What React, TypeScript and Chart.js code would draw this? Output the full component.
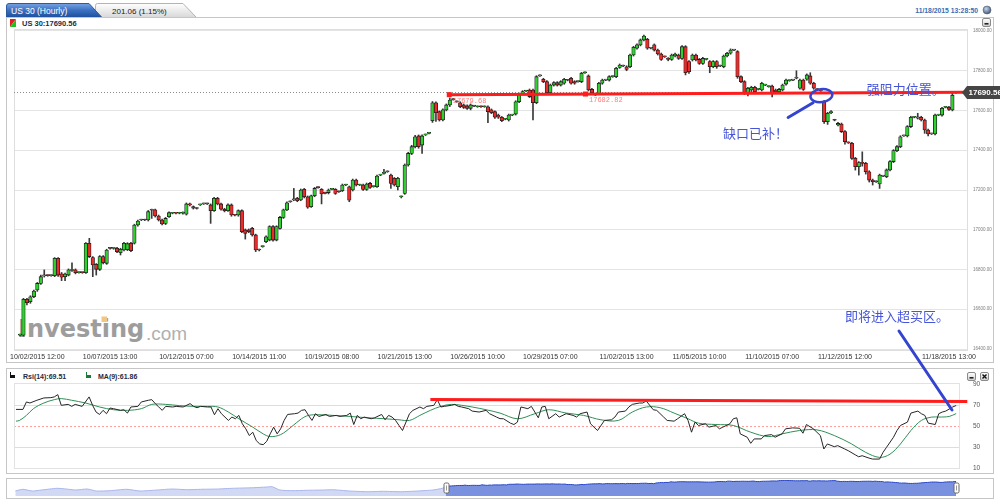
import React, { useEffect, useRef } from "react";
import { Chart, registerables } from "chart.js";

Chart.register(...registerables);
Chart.defaults.font.family = '"Liberation Sans", Arial, sans-serif';

// ---------------- main series (hourly candles) ----------------
const opens = [
  16470,16470,16650,16638,16663,16697,16730,16768,16770,16769,
  16769,16856,16778,16764,16772,16795,16798,16784,16785,16784,
  16932,16860,16826,16801,16865,16831,16907,16906,16907,16885,
  16898,16900,16932,16932,17024,17049,17050,17049,17098,17100,
  17069,17049,17032,17066,17083,17084,17083,17083,17078,17130,
  17116,17108,17125,17130,17131,17125,17096,17158,17130,17103,
  17096,17125,17074,17074,17096,16999,16999,17007,16974,16898,
  16915,16940,16948,17016,16948,17007,17062,17100,17141,17150,
  17158,17150,17203,17166,17116,17171,17213,17203,17187,17187,
  17203,17203,17192,17197,17225,17216,17200,17250,17225,17225,
  17203,17233,17217,17217,17275,17284,17292,17275,17259,17217,
  17166,17183,17326,17384,17418,17472,17426,17477,17485,17549,
  17639,17594,17552,17603,17628,17656,17644,17639,17628,17623,
  17611,17623,17619,17620,17619,17619,17603,17594,17577,17566,
  17556,17552,17577,17582,17644,17686,17698,17703,17703,17639,
  17774,17757,17745,17690,17728,17740,17728,17737,17753,17762,
  17745,17745,17745,17790,17774,17706,17678,17686,17737,17753,
  17753,17770,17770,17817,17824,17820,17820,17879,17913,17930,
  17955,17958,17913,17930,17904,17884,17871,17862,17857,17874,
  17879,17862,17921,17846,17854,17879,17857,17837,17857,17846,
  17820,17846,17824,17820,17874,17888,17904,17896,17770,17745,
  17690,17703,17717,17706,17703,17728,17720,17723,17703,17695,
  17703,17733,17750,17753,17762,17712,17753,17757,17774,17737,
  17706,17700,17644,17544,17589,17552,17527,17532,17494,17438,
  17435,17359,17317,17338,17334,17292,17250,17242,17230,17270,
  17267,17301,17343,17398,17418,17472,17472,17519,17566,17562,
  17566,17552,17502,17482,17482,17577,17577,17616,17616,17603,17690,
];
const highs = [
  16475,16655,16655,16668,16697,16735,16772,16798,16773,16773,
  16860,16860,16785,16782,16803,16834,16803,16788,16788,16935,
  16957,16865,16830,16870,16870,16902,16910,16910,16912,16907,
  16937,16935,16937,17028,17049,17053,17053,17097,17104,17104,
  17074,17054,17062,17090,17087,17087,17088,17090,17135,17134,
  17120,17111,17129,17134,17134,17130,17163,17163,17134,17108,
  17130,17130,17078,17100,17100,17004,17004,17012,16978,16903,
  16919,16970,17020,17021,17020,17067,17104,17141,17145,17208,
  17163,17205,17208,17170,17175,17213,17216,17207,17190,17205,
  17207,17207,17195,17230,17229,17220,17255,17255,17229,17230,
  17235,17238,17221,17275,17279,17304,17296,17280,17263,17264,
  17170,17331,17390,17425,17475,17477,17477,17481,17489,17645,
  17644,17598,17608,17633,17663,17660,17648,17644,17633,17628,
  17633,17626,17623,17623,17623,17623,17608,17598,17582,17570,
  17560,17582,17581,17649,17688,17700,17702,17708,17708,17775,
  17780,17762,17750,17733,17745,17745,17750,17762,17756,17767,
  17750,17749,17792,17794,17779,17712,17682,17742,17758,17757,
  17775,17774,17817,17834,17828,17825,17884,17923,17935,17960,
  17980,17963,17917,17935,17909,17889,17874,17866,17884,17889,
  17884,17926,17926,17851,17884,17884,17862,17867,17861,17851,
  17851,17851,17828,17879,17893,17910,17908,17901,17775,17750,
  17717,17722,17722,17710,17742,17732,17724,17728,17708,17711,
  17733,17758,17754,17757,17800,17758,17758,17784,17790,17742,
  17710,17704,17650,17591,17599,17556,17540,17537,17499,17442,
  17440,17364,17343,17392,17339,17297,17255,17246,17280,17274,
  17306,17348,17403,17423,17473,17476,17524,17571,17570,17586,
  17571,17557,17507,17486,17582,17581,17616,17620,17621,17690,17694,
];
const lows = [
  16465,16465,16622,16630,16658,16690,16725,16762,16766,16766,
  16764,16765,16744,16744,16768,16790,16778,16781,16781,16780,
  16860,16764,16772,16795,16828,16826,16902,16902,16885,16873,
  16893,16895,16890,16928,17018,17046,17046,17044,17057,17064,
  17044,17024,17026,17062,17080,17080,17080,17078,17074,17120,
  17104,17104,17122,17127,17127,17032,17092,17125,17098,17090,
  17092,17068,17070,17068,16985,16953,16985,16968,16890,16893,
  16912,16935,16944,16943,16944,17003,17057,17096,17138,17146,
  17141,17146,17160,17108,17112,17166,17209,17130,17180,17180,
  17200,17178,17188,17192,17222,17141,17195,17220,17222,17198,
  17198,17208,17214,17213,17272,17280,17289,17208,17220,17200,
  17160,17178,17320,17378,17412,17410,17384,17474,17482,17540,
  17545,17547,17547,17598,17620,17652,17641,17614,17610,17606,
  17603,17619,17616,17616,17616,17539,17584,17560,17560,17544,
  17553,17547,17574,17577,17639,17680,17695,17665,17552,17634,
  17771,17740,17685,17685,17723,17723,17723,17732,17749,17732,
  17732,17742,17740,17787,17698,17685,17675,17681,17732,17750,
  17748,17767,17765,17812,17821,17800,17815,17874,17908,17925,
  17950,17908,17910,17899,17879,17852,17867,17850,17852,17869,
  17857,17857,17779,17787,17849,17849,17832,17832,17854,17790,
  17815,17812,17821,17815,17869,17883,17901,17762,17740,17680,
  17673,17695,17690,17703,17698,17725,17717,17668,17690,17690,
  17698,17728,17747,17750,17759,17707,17701,17752,17732,17707,
  17702,17696,17535,17530,17584,17548,17522,17489,17430,17434,
  17354,17300,17275,17320,17280,17240,17225,17238,17208,17267,
  17262,17296,17338,17393,17413,17469,17467,17514,17563,17557,
  17547,17485,17472,17479,17477,17574,17572,17613,17600,17598,17686,
];
const closes = [
  16472,16650,16633,16663,16692,16730,16764,16770,16769,16770,
  16856,16772,16761,16777,16798,16800,16784,16785,16784,16932,
  16865,16823,16801,16865,16834,16898,16906,16907,16890,16902,
  16932,16930,16895,17024,17044,17050,17049,17091,17100,17069,
  17049,17029,17057,17086,17084,17083,17085,17084,17130,17125,
  17108,17107,17126,17131,17130,17096,17158,17130,17103,17096,
  17125,17074,17073,17096,16990,16982,16990,16974,16898,16900,
  16916,16965,17016,16948,17016,17062,17100,17136,17142,17152,
  17146,17200,17166,17113,17171,17208,17212,17180,17183,17200,
  17204,17183,17191,17225,17226,17149,17250,17225,17226,17203,
  17230,17213,17218,17270,17276,17285,17293,17233,17225,17259,
  17168,17326,17384,17418,17468,17418,17472,17478,17486,17639,
  17589,17552,17603,17628,17653,17655,17645,17619,17616,17611,
  17628,17622,17620,17619,17620,17594,17589,17566,17566,17549,
  17557,17577,17578,17644,17683,17695,17699,17670,17639,17770,
  17775,17745,17690,17728,17740,17728,17745,17757,17752,17737,
  17737,17746,17787,17791,17703,17690,17679,17737,17753,17754,
  17770,17771,17812,17829,17825,17807,17879,17918,17930,17955,
  17975,17913,17914,17904,17884,17857,17870,17857,17879,17884,
  17862,17921,17790,17795,17879,17854,17837,17862,17858,17820,
  17846,17820,17825,17874,17888,17904,17905,17770,17745,17686,
  17712,17717,17695,17707,17737,17729,17721,17686,17695,17706,
  17728,17753,17751,17754,17763,17753,17706,17779,17737,17712,
  17705,17699,17544,17586,17594,17551,17535,17494,17443,17437,
  17359,17317,17338,17334,17292,17250,17242,17241,17275,17271,
  17301,17343,17398,17418,17468,17473,17519,17566,17567,17568,
  17552,17502,17482,17483,17577,17578,17611,17617,17606,17677,17690.56,
];

const xTickBars = [5, 26, 48, 69, 90, 111, 132, 153, 175, 196, 217, 238, 268];
const xTickLabels = [
  "10/02/2015 12:00", "10/07/2015 13:00", "10/12/2015 07:00", "10/14/2015 11:00",
  "10/19/2015 08:00", "10/21/2015 13:00", "10/26/2015 10:00", "10/29/2015 07:00",
  "11/02/2015 13:00", "11/05/2015 10:00", "11/10/2015 07:00", "11/12/2015 12:00",
  "11/18/2015 13:00",
];
const priceTicks = [16400, 16600, 16800, 17000, 17200, 17400, 17600, 17800, 18000];
const lastPrice = 17690.56;

// ---------------- RSI panel ----------------
const rsiBars = [
  0,2,3,4,6,8,10,11,12,13,15,16,17,19,21,22,23,24,25,26,27,28,30,31,32,33,35,36,38,39,
  40,41,42,43,45,46,48,50,51,52,53,55,56,57,58,59,61,62,63,64,65,66,67,68,69,70,71,72,73,74,
  75,76,77,78,80,81,82,83,84,85,86,87,89,90,92,93,95,96,97,98,99,100,102,103,105,106,107,108,109,110,
  111,113,114,116,117,118,120,121,122,123,125,126,127,128,130,131,133,135,136,138,139,140,142,143,144,145,147,148,150,151,
  152,153,155,156,158,160,161,162,164,165,166,167,169,171,172,173,175,176,177,179,180,181,183,184,186,187,189,190,192,193,
  194,195,196,198,199,201,202,203,205,206,207,208,210,211,212,214,215,217,218,220,221,223,225,226,227,229,230,231,232,233,
  235,236,238,239,241,242,243,245,246,248,249,250,252,253,254,256,257,259,260,261,262,264,265,266,267,269,270,
];
const rsiValues = [
  65.8,65.8,72.9,71.9,74.5,76.7,77.0,77.7,79.9,69.7,70.6,68.7,70.6,68.7,77.7,69.7,63.3,61.0,64.9,61.7,67.1,66.5,64.9,65.5,62.3,68.1,68.7,72.9,74.5,75.1,
  71.3,68.1,64.9,68.7,68.1,68.7,68.1,71.3,68.7,67.4,68.7,68.1,68.1,60.7,66.5,61.7,55.3,58.5,56.9,60.1,52.1,47.3,40.9,44.1,36.1,32.9,32.2,35.4,42.5,48.9,
  42.5,47.3,55.3,61.0,61.7,62.3,64.9,65.5,60.1,55.3,61.7,59.1,61.0,59.1,60.1,59.1,60.1,62.3,51.4,60.1,56.9,58.5,56.9,57.8,61.0,55.9,60.1,58.5,55.3,50.5,
  45.7,61.7,64.9,68.1,66.5,68.7,69.7,75.1,68.1,68.7,69.7,70.6,68.7,68.1,66.5,64.2,63.3,64.9,61.7,58.5,57.0,56.9,52.7,51.4,53.7,68.1,66.5,68.7,57.8,68.1,
  68.7,56.9,61.7,58.5,61.7,60.1,58.5,61.7,63.3,52.1,48.9,45.7,55.3,55.9,58.5,63.3,64.2,68.1,70.6,71.9,71.9,73.8,65.5,64.9,58.5,55.3,54.6,56.9,61.7,55.3,
  44.1,53.7,50.5,52.1,48.9,50.5,47.3,48.9,52.1,56.9,57.8,42.5,39.3,33.5,37.7,37.7,40.9,41.8,39.3,42.5,47.3,48.2,47.9,43.1,51.4,47.3,44.1,40.9,28.1,32.9,
  30.3,31.3,28.1,26.5,22.6,20.7,21.7,19.4,18.5,18.5,24.9,29.7,39.3,45.7,50.5,53.7,62.3,64.2,61.7,60.1,52.7,51.4,61.7,63.3,64.2,68.1,69.51,
];
const maBars = [
  0,1,3,5,8,11,13,16,20,24,28,32,36,39,43,47,51,55,58,61,64,68,71,73,76,79,82,84,87,91,
  96,101,106,110,113,116,119,122,125,128,131,135,139,144,149,153,158,163,168,173,177,181,185,189,193,196,201,206,211,216,
  220,225,230,235,240,244,248,251,254,257,260,263,265,268,270,
];
const maValues = [
  54.6,55.3,60.1,66.5,71.9,75.1,76.1,74.5,71.9,68.1,65.5,64.9,66.5,70.6,70.6,69.4,68.7,68.7,68.1,63.3,56.9,48.9,42.5,39.9,41.8,48.9,56.9,60.1,60.7,60.1,
  59.1,57.8,56.9,55.9,55.3,60.1,64.9,68.7,70.6,69.7,68.1,65.5,62.3,56.9,61.7,65.5,62.3,60.1,55.9,55.3,63.3,68.1,67.4,62.3,56.9,52.7,51.4,50.5,44.1,39.9,
  42.5,45.7,46.3,40.9,32.9,24.9,20.1,23.2,32.9,45.7,55.3,58.5,58.5,59.1,61.86,
];
const rsiTicks = [10, 30, 50, 70, 90];

// ---------------- navigator (longer history before the visible window) ----------------
const navHistBars = [
  -228,-224,-219,-214,-206,-201,-196,-190,-185,-178,-169,-162,-153,-145,-137,-130,-121,
  -113,-102,-95,-92,-88,-81,-74,-65,-60,-51,-42,-33,-24,-15,-7,-2,
];
const navHistValues = [
  15470,15868,15470,15704,16102,15938,15704,15938,15470,15540,15868,15470,15704,15938,15774,15868,15938,
  16102,16242,16406,16476,15704,15540,15634,15704,15774,15470,15306,15400,15306,15470,15704,16102,
];

// ---------------- hand-drawn annotations ----------------
const trendBars = [123.7, 163.0];
const trendValues = [17679.68, 17682.82];
const rsiTrendBars = [119, 273.2];
const rsiTrendValues = [75.2, 73.3];
const notes = [
  { text: "缺口已补！", bar: 202.8, value: 17484 },
  { text: "强阻力位置。", bar: 244.3, value: 17710 },
  { text: "即将进入超买区。", bar: 238.0, value: 16566 },
];
const gapCircle = { bar: 231.2, value: 17675 };
const gapPointerBars = [221.6, 228.8];
const gapPointerValues = [17565, 17639];

const UP = "#2fd12f";
const DOWN = "#ec2b2b";
const NOTE_BLUE = "#4655d8";
const LINE_BLUE = "#3444d0";
const CLEAR = "rgba(0,0,0,0)";

const mainOverlay = {
  id: "mainOverlay",
  beforeDatasetsDraw(chart: any) {
    const { ctx, chartArea: a, scales } = chart;
    const y = scales.y;
    ctx.save();
    ctx.strokeStyle = "#dedede";
    ctx.lineWidth = 1;
    ctx.strokeRect(a.left + 0.5, a.top + 0.5, a.right - a.left - 1, a.bottom - a.top - 1);
    const py = Math.round(y.getPixelForValue(lastPrice)) + 0.5;
    ctx.setLineDash([1, 2]);
    ctx.strokeStyle = "#8c8c8c";
    ctx.beginPath();
    ctx.moveTo(a.left, py);
    ctx.lineTo(a.right, py);
    ctx.stroke();
    ctx.restore();
  },
  afterDatasetsDraw(chart: any) {
    const { ctx, chartArea: a, scales } = chart;
    const x = scales.x;
    const y = scales.y;
    ctx.save();
    // red resistance trend line, extended to the right edge
    const slope = (trendValues[1] - trendValues[0]) / (trendBars[1] - trendBars[0]);
    const endBar = x.max;
    const endVal = trendValues[0] + slope * (endBar - trendBars[0]);
    ctx.strokeStyle = "#ff1c1c";
    ctx.lineWidth = 3;
    ctx.beginPath();
    ctx.moveTo(x.getPixelForValue(trendBars[0]), y.getPixelForValue(trendValues[0]));
    ctx.lineTo(a.right, y.getPixelForValue(endVal));
    ctx.stroke();
    ctx.font = '7px "Liberation Mono", monospace';
    ctx.textBaseline = "top";
    for (let k = 0; k < 2; k++) {
      const px = x.getPixelForValue(trendBars[k]);
      const py = y.getPixelForValue(trendValues[k]);
      ctx.fillStyle = "#ff1c1c";
      ctx.fillRect(px - 2, py - 2.5, 5, 5);
      ctx.fillStyle = "#ff7b7b";
      ctx.fillText(trendValues[k].toFixed(2), px + 4, py + 3);
    }
    // gap ellipse + pointer
    ctx.strokeStyle = LINE_BLUE;
    ctx.lineWidth = 2.5;
    ctx.beginPath();
    ctx.ellipse(x.getPixelForValue(gapCircle.bar), y.getPixelForValue(gapCircle.value), 11, 6.5, -0.12, 0, Math.PI * 2);
    ctx.stroke();
    ctx.lineWidth = 3;
    ctx.lineCap = "round";
    ctx.beginPath();
    ctx.moveTo(x.getPixelForValue(gapPointerBars[0]), y.getPixelForValue(gapPointerValues[0]));
    ctx.lineTo(x.getPixelForValue(gapPointerBars[1]), y.getPixelForValue(gapPointerValues[1]));
    ctx.stroke();
    // notes
    ctx.fillStyle = NOTE_BLUE;
    ctx.font = '13px "Noto Sans CJK SC", sans-serif';
    ctx.textBaseline = "middle";
    ctx.textAlign = "left";
    notes.forEach((n) => ctx.fillText(n.text, x.getPixelForValue(n.bar), y.getPixelForValue(n.value)));
    // last price tag
    const ty = y.getPixelForValue(lastPrice);
    const W = chart.width;
    ctx.fillStyle = "#454545";
    ctx.beginPath();
    ctx.moveTo(a.right - 6, ty);
    ctx.lineTo(a.right - 1, ty - 6.5);
    ctx.lineTo(W, ty - 6.5);
    ctx.lineTo(W, ty + 6.5);
    ctx.lineTo(a.right - 1, ty + 6.5);
    ctx.closePath();
    ctx.fill();
    ctx.fillStyle = "#ffffff";
    ctx.font = 'bold 8px "Liberation Sans", Arial, sans-serif';
    ctx.fillText(lastPrice.toFixed(2), a.right + 0.5, ty + 0.5);
    ctx.restore();
  },
};

const rsiOverlay = {
  id: "rsiOverlay",
  beforeDatasetsDraw(chart: any) {
    const { ctx, chartArea: a } = chart;
    ctx.save();
    ctx.strokeStyle = "#e2e2e2";
    ctx.lineWidth = 1;
    ctx.strokeRect(a.left + 0.5, a.top - 0.5, a.right - a.left - 1, a.bottom - a.top + 1);
    ctx.restore();
  },
  afterDraw(chart: any) {
    const { ctx, scales } = chart;
    const x = scales.x;
    const y = scales.y;
    ctx.save();
    ctx.strokeStyle = "#ff1c1c";
    ctx.lineWidth = 3;
    ctx.beginPath();
    ctx.moveTo(x.getPixelForValue(rsiTrendBars[0]), y.getPixelForValue(rsiTrendValues[0]));
    ctx.lineTo(x.getPixelForValue(rsiTrendBars[1]), y.getPixelForValue(rsiTrendValues[1]));
    ctx.stroke();
    ctx.restore();
  },
};

const navOverlay = {
  id: "navOverlay",
  afterDraw(chart: any) {
    const { ctx, chartArea: a, scales } = chart;
    const x = scales.x;
    const mid = (a.top + a.bottom) / 2;
    ctx.save();
    [0, closes.length - 1].forEach((b) => {
      const px = Math.round(x.getPixelForValue(b)) + 0.5;
      ctx.fillStyle = "#ffffff";
      ctx.strokeStyle = "#666";
      ctx.lineWidth = 1;
      ctx.beginPath();
      ctx.roundRect(px - 2.5, mid - 5, 5, 10, 1.5);
      ctx.fill();
      ctx.stroke();
      ctx.beginPath();
      ctx.moveTo(px, mid - 2.5);
      ctx.lineTo(px, mid + 2.5);
      ctx.strokeStyle = "#999";
      ctx.stroke();
    });
    ctx.restore();
  },
};

export default function App() {
  const mainRef = useRef<HTMLCanvasElement>(null);
  const rsiRef = useRef<HTMLCanvasElement>(null);
  const navRef = useRef<HTMLCanvasElement>(null);

  useEffect(() => {
    const charts: Chart[] = [];
    const bodyColors = closes.map((c, i) => (c >= opens[i] ? UP : DOWN));

    charts.push(
      new Chart(mainRef.current as HTMLCanvasElement, {
        type: "bar",
        data: {
          datasets: [
            {
              label: "body",
              data: opens.map((o, i) => ({ x: i, y: [o, closes[i]] })) as any,
              backgroundColor: bodyColors,
              borderColor: "#1e1e1e",
              borderWidth: 0.8,
              borderSkipped: false,
              barThickness: 3.5,
              minBarLength: 1,
              grouped: false,
              order: 0,
            } as any,
            {
              label: "wick",
              data: lows.map((l, i) => ({ x: i, y: [l, highs[i]] })) as any,
              backgroundColor: "#3a3a3a",
              borderWidth: 0,
              barThickness: 1,
              minBarLength: 1,
              grouped: false,
              order: 1,
            } as any,
          ],
        },
        options: {
          responsive: false,
          animation: false,
          devicePixelRatio: 1,
          events: [],
          layout: { padding: { left: 9, top: 4, right: 0, bottom: 0 } },
          plugins: { legend: { display: false }, tooltip: { enabled: false } },
          scales: {
            x: {
              type: "linear",
              min: -1.73,
              max: 273.5,
              offset: false,
              grid: { display: false, drawTicks: false },
              border: { display: false },
              afterBuildTicks: (s: any) => {
                s.ticks = xTickBars.map((v) => ({ value: v }));
              },
              afterFit: (s: any) => {
                s.height = 14;
              },
              ticks: {
                autoSkip: false,
                maxRotation: 0,
                padding: 2,
                color: "#333",
                font: { size: 7 },
                callback: (v: any) => {
                  const k = xTickBars.indexOf(Number(v));
                  return k >= 0 ? xTickLabels[k] : "";
                },
              },
            },
            y: {
              position: "right",
              min: 16390,
              max: 18010,
              beginAtZero: false,
              grid: { color: "#e4e4e4", lineWidth: 1, drawTicks: true, tickLength: 4, tickColor: CLEAR },
              border: { display: false },
              afterBuildTicks: (s: any) => {
                s.ticks = priceTicks.map((v) => ({ value: v }));
              },
              afterFit: (s: any) => {
                s.width = 32;
              },
              ticks: {
                padding: 1,
                color: "#7d7d7d",
                font: { size: 4.5 },
                callback: (v: any) => Number(v).toFixed(2),
              },
            },
          },
        } as any,
        plugins: [mainOverlay],
      })
    );

    charts.push(
      new Chart(rsiRef.current as HTMLCanvasElement, {
        type: "line",
        data: {
          datasets: [
            {
              label: "MA(9)",
              data: maBars.map((b, i) => ({ x: b, y: maValues[i] })),
              borderColor: "#2f8f55",
              borderWidth: 1,
              pointRadius: 0,
              tension: 0.35,
              order: 1,
            },
            {
              label: "Rsi(14)",
              data: rsiBars.map((b, i) => ({ x: b, y: rsiValues[i] })),
              borderColor: "#262626",
              borderWidth: 1,
              pointRadius: 0,
              tension: 0,
              order: 0,
            },
          ],
        },
        options: {
          responsive: false,
          animation: false,
          devicePixelRatio: 1,
          events: [],
          layout: { padding: { left: 9, top: 6, right: 0, bottom: 6 } },
          plugins: { legend: { display: false }, tooltip: { enabled: false } },
          scales: {
            x: { type: "linear", min: -0.57, max: 271.1, display: false },
            y: {
              position: "right",
              min: 10,
              max: 90,
              grid: {
                drawTicks: true,
                tickLength: 11,
                tickColor: CLEAR,
                lineWidth: 1,
                color: (c: any) => {
                  const v = c.tick ? c.tick.value : 0;
                  if (v === 50) return "#ff9d9d";
                  if (v === 30 || v === 70) return "#dddddd";
                  return CLEAR;
                },
              },
              border: {
                display: false,
                dash: (c: any) => (c.tick && c.tick.value === 50 ? [2, 2] : []),
              },
              afterBuildTicks: (s: any) => {
                s.ticks = rsiTicks.map((v) => ({ value: v }));
              },
              afterFit: (s: any) => {
                s.width = 40;
              },
              ticks: { padding: 2, color: "#555", font: { size: 6.5 } },
            },
          },
        } as any,
        plugins: [rsiOverlay],
      })
    );

    const histData = navHistBars.map((b, i) => ({ x: b, y: navHistValues[i] }));
    histData.push({ x: 0, y: closes[0] });
    charts.push(
      new Chart(navRef.current as HTMLCanvasElement, {
        type: "line",
        data: {
          datasets: [
            {
              label: "history",
              data: histData,
              borderColor: "#a9b6ea",
              backgroundColor: "rgba(172,186,236,0.55)",
              borderWidth: 1,
              pointRadius: 0,
              fill: "start",
              tension: 0.2,
            },
            {
              label: "window",
              data: closes.map((c, i) => ({ x: i, y: c })),
              borderColor: "#2745c4",
              backgroundColor: "#7a91df",
              borderWidth: 1,
              pointRadius: 0,
              fill: "start",
              tension: 0,
            },
          ],
        },
        options: {
          responsive: false,
          animation: false,
          devicePixelRatio: 1,
          events: [],
          layout: { padding: { left: 9, top: 2, right: 43, bottom: 3 } },
          plugins: { legend: { display: false }, tooltip: { enabled: false } },
          scales: {
            x: { type: "linear", min: -228.7, max: 270.5, display: false },
            y: { min: 14300, max: 18050, display: false },
          },
        } as any,
        plugins: [navOverlay],
      })
    );

    return () => charts.forEach((c) => c.destroy());
  }, []);

  const font = '"Liberation Sans", Arial, sans-serif';
  return (
    <div
      style={{
        position: "absolute",
        left: 0,
        top: 0,
        width: 1000,
        height: 504,
        background: "#ffffff",
        overflow: "hidden",
        fontFamily: font,
      }}
    >
      <svg width={1000} height={504} style={{ position: "absolute", left: 0, top: 0 }} fontFamily={font}>
        <defs>
          <linearGradient id="tabBlue" x1="0" y1="0" x2="0" y2="1">
            <stop offset="0" stopColor="#76a3e4" />
            <stop offset="0.5" stopColor="#3a6fc0" />
            <stop offset="1" stopColor="#1d4d9c" />
          </linearGradient>
          <linearGradient id="tabGray" x1="0" y1="0" x2="0" y2="1">
            <stop offset="0" stopColor="#ffffff" />
            <stop offset="1" stopColor="#d8d8d8" />
          </linearGradient>
          <linearGradient id="btn" x1="0" y1="0" x2="0" y2="1">
            <stop offset="0" stopColor="#ffffff" />
            <stop offset="1" stopColor="#cfcfcf" />
          </linearGradient>
          <radialGradient id="sphere" cx="0.4" cy="0.35" r="0.7">
            <stop offset="0" stopColor="#c9d6ea" />
            <stop offset="1" stopColor="#36506f" />
          </radialGradient>
        </defs>

        {/* header tabs */}
        <path d="M95.5,17.5 V5.5 Q95.5,3.5 97.5,3.5 H183 L196.5,17.5 Z" fill="url(#tabGray)" stroke="#b3b3b3" />
        <path d="M6.5,17.5 V6 Q6.5,3.5 9,3.5 H89 L102,17.5 Z" fill="url(#tabBlue)" stroke="#2b5a9e" />
        <text x={11} y={14} fontSize={8.5} fill="#ffffff">US 30 (Hourly)</text>
        <text x={112} y={14} fontSize={8} fill="#1a1a1a">201.06 (1.15%)</text>
        <text x={978} y={13} fontSize={6.8} fontWeight="bold" fill="#3a6cb3" textAnchor="end">
          11/18/2015 13:28:50
        </text>
        <circle cx={987} cy={10} r={4} fill="url(#sphere)" stroke="#50627a" strokeWidth={0.6} />

        {/* main panel */}
        <rect x={6.5} y={17.5} width={987} height={345} fill="none" stroke="#c6c6c6" />
        <polygon points="10,19 16,19 10,27" fill="#e02020" />
        <polygon points="16,19 16,27 10,27" fill="#22c022" />
        <text x={22} y={25.5} fontSize={7.5} fontWeight="bold" fill="#1d2d44">US 30:17690.56</text>
        <rect x={982.5} y={18.5} width={8} height={8} rx={1.5} fill="url(#btn)" stroke="#8a8a8a" />
        <rect x={984.5} y={23} width={4} height={1.6} fill="#222" />

        {/* watermark */}
        <text x={18} y={337} fontSize={24} fontWeight="bold" fill="#9d9d9d" fontFamily='"DejaVu Sans", sans-serif'>
          Investing
        </text>
        <text x={146} y={339.5} fontSize={19} fill="#b0b0b0">.com</text>
        <rect x={101.5} y={316.5} width={5.5} height={5.5} fill="#f3c583" />

        {/* RSI panel */}
        <rect x={6.5} y={368.5} width={987} height={105} fill="none" stroke="#c6c6c6" />
        <rect x={10} y={375} width={5} height={3} fill="#111" />
        <rect x={10} y={372} width={1} height={3} fill="#111" />
        <text x={23} y={379} fontSize={7} fontWeight="bold" fill="#1d2d44">Rsi(14):69.51</text>
        <rect x={86} y={375} width={5} height={3} fill="#1a7a3a" />
        <rect x={86} y={372} width={1} height={3} fill="#1a7a3a" />
        <text x={98} y={379} fontSize={7} fontWeight="bold" fill="#1d2d44">MA(9):61.86</text>
        <rect x={967.5} y={372.5} width={8} height={8} rx={1.5} fill="url(#btn)" stroke="#8a8a8a" />
        <rect x={969.5} y={377} width={4} height={1.6} fill="#222" />
        <rect x={980.5} y={372.5} width={8} height={8} rx={1.5} fill="url(#btn)" stroke="#8a8a8a" />
        <path d="M982.5,374.5 L986.5,378.5 M986.5,374.5 L982.5,378.5" stroke="#111" strokeWidth={1.4} />

        {/* navigator */}
        <rect x={6.5} y={478.5} width={987} height={20} fill="none" stroke="#c6c6c6" />
      </svg>

      <canvas
        ref={mainRef}
        width={995}
        height={340}
        style={{ position: "absolute", left: 5, top: 25, width: 995, height: 340 }}
      />
      <canvas
        ref={rsiRef}
        width={995}
        height={96}
        style={{ position: "absolute", left: 5, top: 378, width: 995, height: 96 }}
      />
      <canvas
        ref={navRef}
        width={995}
        height={21}
        style={{ position: "absolute", left: 5, top: 478, width: 995, height: 21 }}
      />

      <svg width={1000} height={504} style={{ position: "absolute", left: 0, top: 0, pointerEvents: "none" }}>
        <line x1={899} y1={331} x2={952} y2={410} stroke={LINE_BLUE} strokeWidth={3} strokeLinecap="round" />
      </svg>
    </div>
  );
}
